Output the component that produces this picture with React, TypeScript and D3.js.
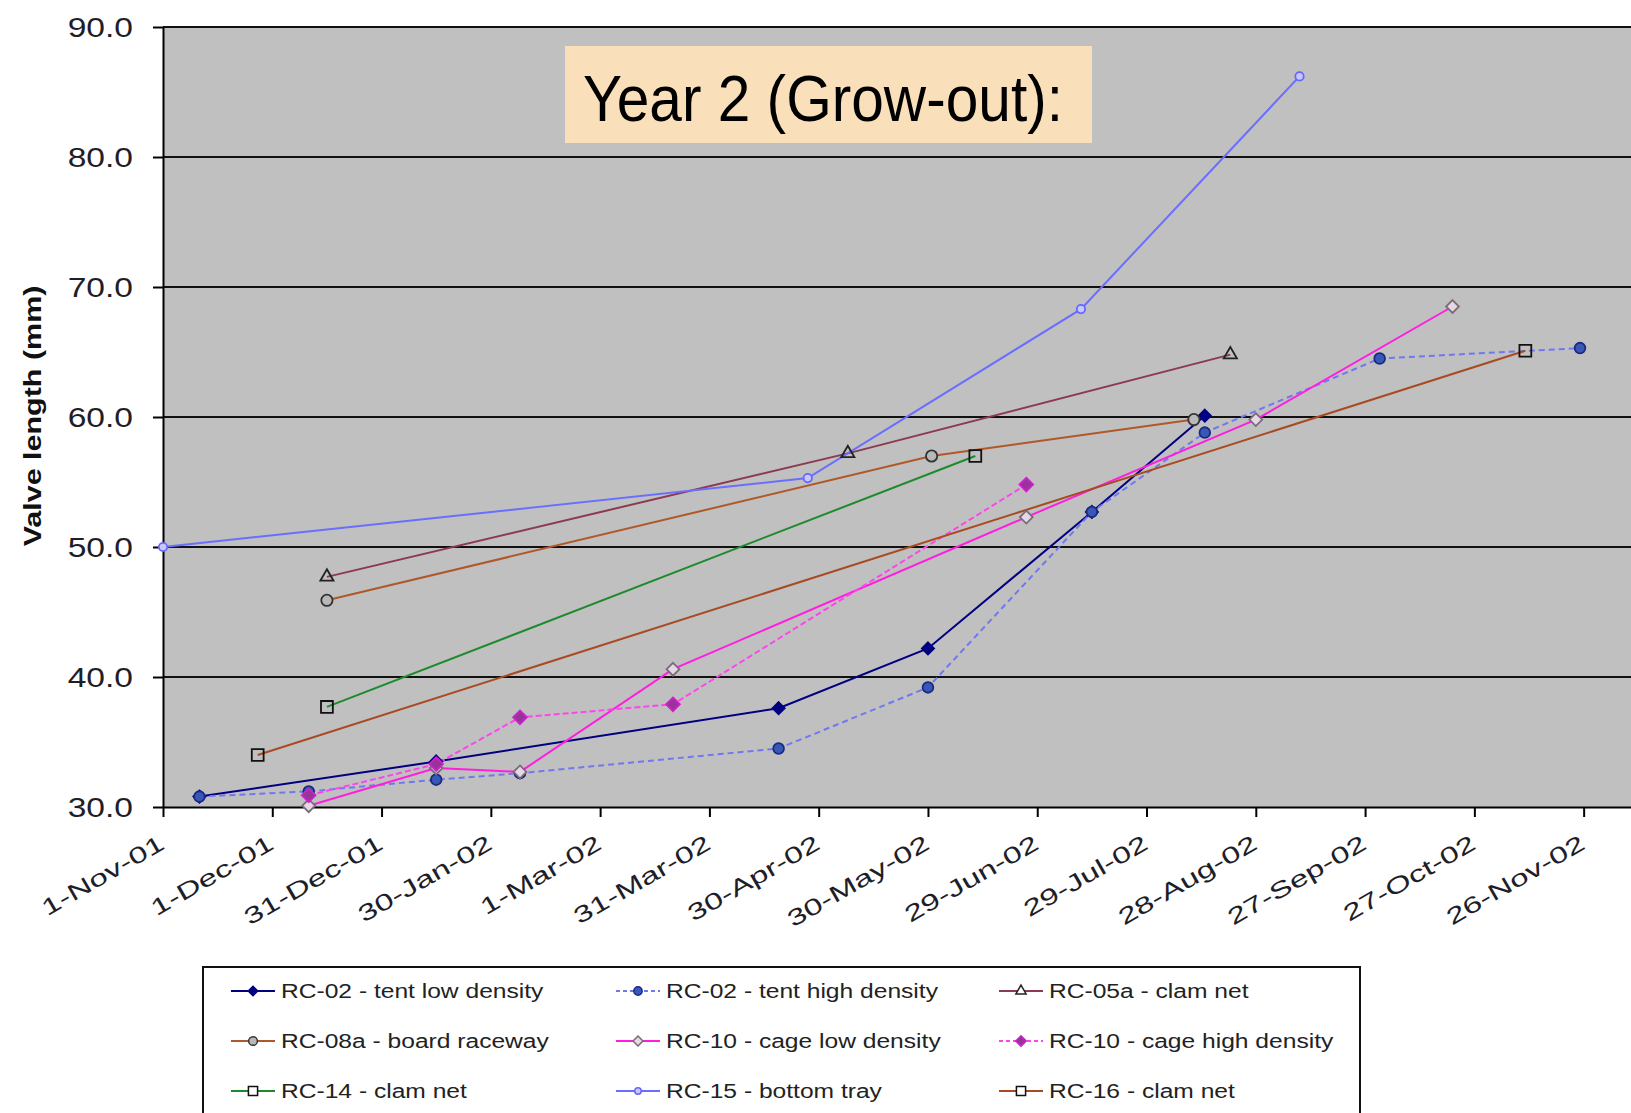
import React, { useRef, useEffect } from 'react';
import * as d3 from 'd3';

// axis labels
const xTickLabels = ['1-Nov-01', '1-Dec-01', '31-Dec-01', '30-Jan-02', '1-Mar-02', '31-Mar-02', '30-Apr-02',
    '30-May-02', '29-Jun-02', '29-Jul-02', '28-Aug-02', '27-Sep-02', '27-Oct-02', '26-Nov-02'];
const yTickLabels = ['30.0', '40.0', '50.0', '60.0', '70.0', '80.0', '90.0'];

// valve length (mm) per series, dates as sampled
const tentLowDates = ['2001-11-11', '2002-01-15', '2002-04-19', '2002-05-30', '2002-07-14', '2002-08-14'];
const tentLowValues = [30.8, 33.5, 37.6, 42.2, 52.7, 60.1];

const tentHighDates = ['2001-11-11', '2001-12-11', '2002-01-15', '2002-02-07', '2002-04-19', '2002-05-30',
    '2002-07-14', '2002-08-14', '2002-10-01', '2002-11-25'];
const tentHighValues = [30.8, 31.2, 32.1, 32.6, 34.5, 39.2, 52.7, 58.8, 64.5, 65.3];

const rc05aDates = ['2001-12-16', '2002-05-08', '2002-08-21'];
const rc05aValues = [47.7, 57.2, 64.8];

const rc08aDates = ['2001-12-16', '2002-05-31', '2002-08-11'];
const rc08aValues = [45.9, 57.0, 59.8];

const cageLowDates = ['2001-12-11', '2002-01-15', '2002-02-07', '2002-03-21', '2002-06-26', '2002-08-28', '2002-10-21'];
const cageLowValues = [30.1, 33.0, 32.7, 40.6, 52.3, 59.8, 68.5];

const cageHighDates = ['2001-12-11', '2002-01-15', '2002-02-07', '2002-03-21', '2002-06-26'];
const cageHighValues = [30.9, 33.3, 36.9, 37.9, 54.8];

const rc14Dates = ['2001-12-16', '2002-06-12'];
const rc14Values = [37.7, 57.0];

const rc15Dates = ['2001-11-01', '2002-04-27', '2002-07-11', '2002-09-09'];
const rc15Values = [50.0, 55.3, 68.3, 86.2];

const rc16Dates = ['2001-11-27', '2002-11-10'];
const rc16Values = [34.0, 65.1];

const FONT = '"Liberation Sans", Arial, sans-serif';

// square rotated 45deg, falls back to the tall diamond on older d3
const DIAMOND: d3.SymbolType = (d3 as any).symbolDiamond2 || d3.symbolDiamond;

interface Series {
    name: string;
    dates: string[];
    values: number[];
    line: string;
    dash?: string;
    symbol: d3.SymbolType;
    size: number;
    fill: string;
    stroke: string;
}

const SERIES: Series[] = [
    { name: 'RC-02 - tent low density', dates: tentLowDates, values: tentLowValues, line: '#000080', symbol: DIAMOND, size: 95, fill: '#000080', stroke: '#000080' },
    { name: 'RC-02 - tent high density', dates: tentHighDates, values: tentHighValues, line: '#6f78f0', dash: '6,4', symbol: d3.symbolCircle, size: 90, fill: '#3858b8', stroke: '#1a2a80' },
    { name: 'RC-05a - clam net', dates: rc05aDates, values: rc05aValues, line: '#8b3a50', symbol: d3.symbolTriangle, size: 75, fill: 'none', stroke: '#222' },
    { name: 'RC-08a - board raceway', dates: rc08aDates, values: rc08aValues, line: '#b0582a', symbol: d3.symbolCircle, size: 100, fill: '#b8b8b8', stroke: '#333' },
    { name: 'RC-10 - cage low density', dates: cageLowDates, values: cageLowValues, line: '#ff1ee0', symbol: DIAMOND, size: 105, fill: '#e4d8e4', stroke: '#7a6a7a' },
    { name: 'RC-10 - cage high density', dates: cageHighDates, values: cageHighValues, line: '#ff44ee', dash: '6,3', symbol: DIAMOND, size: 120, fill: '#993399', stroke: '#cc22cc' },
    { name: 'RC-14 - clam net', dates: rc14Dates, values: rc14Values, line: '#1e8a2e', symbol: d3.symbolSquare, size: 140, fill: 'none', stroke: '#111' },
    { name: 'RC-15 - bottom tray', dates: rc15Dates, values: rc15Values, line: '#6a6eff', symbol: d3.symbolCircle, size: 55, fill: '#c8c8ff', stroke: '#6666ff' },
    { name: 'RC-16 - clam net', dates: rc16Dates, values: rc16Values, line: '#a84a22', symbol: d3.symbolSquare, size: 140, fill: 'none', stroke: '#111' },
];

const App: React.FC = () => {
    const svgRef = useRef<SVGSVGElement | null>(null);

    useEffect(() => {
        if (!svgRef.current) return;
        const svg = d3.select(svgRef.current);
        svg.selectAll('*').remove();

        const width = 1631;
        const margin = { top: 27, left: 163, bottom: 807 };
        const parse = d3.utcParse('%Y-%m-%d');
        const parseTick = d3.utcParse('%d-%b-%y');

        const xScale = d3.scaleUtc()
            .domain([parse('2001-11-01')!, parse('2002-12-09')!])
            .range([margin.left, width]);
        const yScale = d3.scaleLinear().domain([30, 90]).range([margin.bottom, margin.top]);

        // plot area
        svg.append('rect')
            .attr('x', margin.left).attr('y', margin.top)
            .attr('width', width - margin.left).attr('height', margin.bottom - margin.top)
            .attr('fill', '#c0c0c0');

        // gridlines
        svg.append('g').selectAll('line')
            .data(yTickLabels.map(Number).filter(v => v > 30))
            .enter().append('line')
            .attr('x1', margin.left).attr('x2', width)
            .attr('y1', d => yScale(d)).attr('y2', d => yScale(d))
            .attr('stroke', '#111').attr('stroke-width', 2);

        // y axis
        const yAxis = svg.append('g')
            .attr('transform', `translate(${margin.left},0)`)
            .call(d3.axisLeft(yScale).tickValues(yTickLabels.map(Number)).tickSize(10).tickSizeOuter(0).tickFormat(() => ''));
        yAxis.select('.domain').attr('stroke', '#000').attr('stroke-width', 2);
        yAxis.selectAll('.tick line').attr('stroke', '#000').attr('stroke-width', 2);

        svg.append('g').selectAll('text')
            .data(yTickLabels)
            .enter().append('text')
            .attr('transform', d => `translate(133,${yScale(Number(d))}) scale(1.2,1)`)
            .attr('text-anchor', 'end')
            .attr('dy', '0.36em')
            .attr('font-family', FONT)
            .attr('font-size', 28)
            .attr('fill', '#1e1e28')
            .text(d => d);

        // x axis
        const tickDates = xTickLabels.map(t => parseTick(t)!);
        const xAxis = svg.append('g')
            .attr('transform', `translate(0,${margin.bottom})`)
            .call(d3.axisBottom(xScale).tickValues(tickDates).tickSize(10).tickSizeOuter(0).tickFormat(() => ''));
        xAxis.select('.domain').attr('stroke', '#000').attr('stroke-width', 2);
        xAxis.selectAll('.tick line').attr('stroke', '#000').attr('stroke-width', 2);

        svg.append('g').selectAll('text')
            .data(xTickLabels)
            .enter().append('text')
            .attr('transform', d => `translate(${xScale(parseTick(d)!) + 3},${margin.bottom + 41}) rotate(-30) scale(1.45,1)`)
            .attr('text-anchor', 'end')
            .attr('font-family', FONT)
            .attr('font-size', 23)
            .attr('fill', '#1e1e28')
            .text(d => d);

        // axis title
        svg.append('text')
            .attr('transform', 'translate(41,416) rotate(-90) scale(1.27,1)')
            .attr('text-anchor', 'middle')
            .attr('font-family', FONT)
            .attr('font-weight', 'bold')
            .attr('font-size', 24)
            .attr('fill', '#111')
            .text('Valve length (mm)');

        // series
        const line = d3.line<[Date, number]>()
            .x(d => xScale(d[0]))
            .y(d => yScale(d[1]));

        SERIES.forEach(s => {
            const pts: [Date, number][] = s.dates.map((d, i) => [parse(d)!, s.values[i]]);
            svg.append('path')
                .datum(pts)
                .attr('d', line)
                .attr('fill', 'none')
                .attr('stroke', s.line)
                .attr('stroke-width', 2)
                .attr('stroke-dasharray', s.dash || null);
        });
        SERIES.forEach(s => {
            const pts: [Date, number][] = s.dates.map((d, i) => [parse(d)!, s.values[i]]);
            svg.append('g').selectAll('path')
                .data(pts)
                .enter().append('path')
                .attr('d', d3.symbol().type(s.symbol).size(s.size)())
                .attr('transform', d => `translate(${xScale(d[0])},${yScale(d[1])})`)
                .attr('fill', s.fill)
                .attr('stroke', s.stroke)
                .attr('stroke-width', 1.8);
        });

        // title annotation
        svg.append('rect')
            .attr('x', 565).attr('y', 46).attr('width', 527).attr('height', 97)
            .attr('fill', '#f9dfba');
        svg.append('text')
            .attr('x', 583).attr('y', 121)
            .attr('font-family', FONT)
            .attr('font-size', 65)
            .attr('textLength', 480)
            .attr('lengthAdjust', 'spacingAndGlyphs')
            .attr('fill', '#000')
            .text('Year 2 (Grow-out):');

        // legend
        const legend = svg.append('g');
        legend.append('rect')
            .attr('x', 203).attr('y', 967).attr('width', 1157).attr('height', 170)
            .attr('fill', '#fff').attr('stroke', '#111').attr('stroke-width', 2);
        const colX = [231, 616, 999];
        const rowY = [991, 1041, 1091];
        const items = legend.selectAll('g.item')
            .data(SERIES)
            .enter().append('g')
            .attr('class', 'item')
            .attr('transform', (d, i) => `translate(${colX[i % 3]},${rowY[Math.floor(i / 3)]})`);
        items.append('line')
            .attr('x1', 0).attr('x2', 44).attr('y1', 0).attr('y2', 0)
            .attr('stroke', d => d.line).attr('stroke-width', 2)
            .attr('stroke-dasharray', d => d.dash ? '4,3' : null);
        items.append('path')
            .attr('transform', 'translate(22,0)')
            .attr('d', d => d3.symbol().type(d.symbol).size(d.size * 0.6)())
            .attr('fill', d => d.fill === 'none' ? '#fff' : d.fill)
            .attr('stroke', d => d.stroke)
            .attr('stroke-width', 1.5);
        items.append('text')
            .attr('transform', 'translate(50,0) scale(1.23,1)')
            .attr('dy', '0.36em')
            .attr('font-family', FONT)
            .attr('font-size', 20)
            .attr('fill', '#222')
            .text(d => d.name);
    }, []);

    return (
        <svg ref={svgRef} width={1631} height={1113}
            style={{ position: 'absolute', left: 0, top: 0, background: '#fff' }} />
    );
};

export default App;
